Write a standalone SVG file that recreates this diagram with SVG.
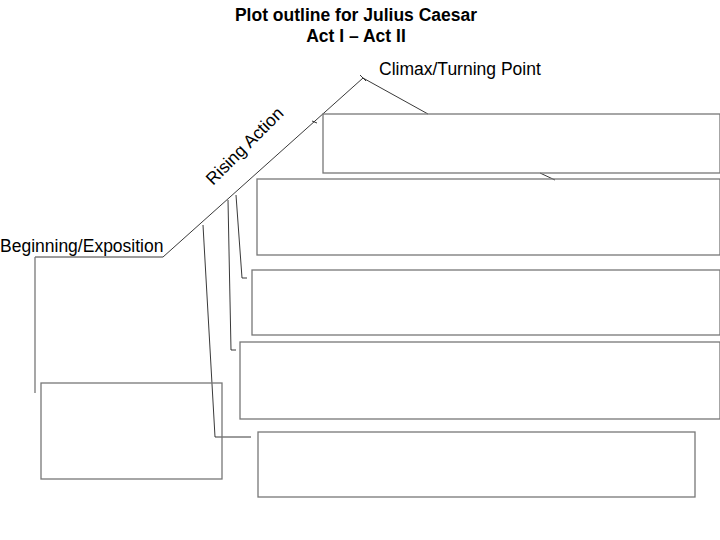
<svg xmlns="http://www.w3.org/2000/svg" width="720" height="540" viewBox="0 0 720 540">
<style>
.t{font-family:"Liberation Sans",Arial,sans-serif;fill:#000}
.b{fill:none;stroke:#777;stroke-width:1.3}
.l{fill:none;stroke:#222;stroke-width:0.9}
</style>
<rect width="720" height="540" fill="#fff"/>
<text class="t" x="356" y="21" font-size="17.5" font-weight="bold" text-anchor="middle">Plot outline for Julius Caesar</text>
<text class="t" x="356" y="42" font-size="17.5" font-weight="bold" text-anchor="middle">Act I – Act II</text>
<g id="connectors">
<polyline class="l" points="35,257 163,257 363,78 428,114"/>
<line class="l" x1="360" y1="75" x2="366" y2="81"/>
<line class="l" x1="312" y1="121" x2="317" y2="123"/>
<line class="l" x1="540" y1="173" x2="555" y2="180"/>
<line class="b" x1="35" y1="257" x2="35" y2="393"/>
<polyline class="l" points="236,195 242,278 247,278"/>
<polyline class="l" points="228,200 231,350 236,350"/>
<polyline class="l" points="203,225 215,437 251,437"/>
</g>
<g id="labels">
<text class="t" x="379" y="75" font-size="17.5">Climax/Turning Point</text>
<text class="t" x="0" y="252" font-size="17.5">Beginning/Exposition</text>
<text class="t" font-size="17.5" transform="translate(213,186) rotate(-45)">Rising Action</text>
</g>
<g id="box1"><rect class="b" x="323" y="114" width="397" height="59"/></g>
<g id="box2"><rect class="b" x="257" y="179" width="463" height="76"/></g>
<g id="box3"><rect class="b" x="252" y="270" width="468" height="65"/></g>
<g id="box4"><rect class="b" x="240" y="342" width="480" height="77"/></g>
<g id="box5"><rect class="b" x="258" y="432" width="437" height="65"/></g>
<g id="box6"><rect class="b" x="41" y="383" width="181" height="96"/></g>
</svg>
